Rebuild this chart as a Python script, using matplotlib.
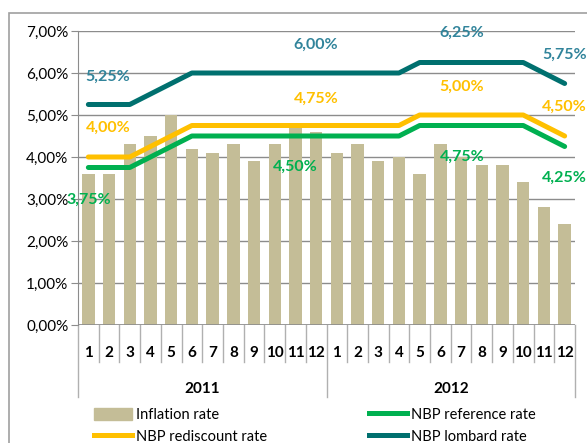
import numpy as np
import matplotlib.pyplot as plt
from matplotlib.patches import Rectangle
from matplotlib.lines import Line2D

plt.rcParams['font.family'] = ['Lato', 'DejaVu Sans']

months = [str(m) for m in range(1, 13)] * 2
years = ["2011", "2012"]
inflation = [3.6, 3.6, 4.3, 4.5, 5.0, 4.2, 4.1, 4.3, 3.9, 4.3, 4.7, 4.6,
             4.1, 4.3, 3.9, 4.0, 3.6, 4.3, 4.0, 3.8, 3.8, 3.4, 2.8, 2.4]
reference = [3.75, 3.75, 3.75, 4.0, 4.25, 4.5, 4.5, 4.5, 4.5, 4.5, 4.5, 4.5,
             4.5, 4.5, 4.5, 4.5, 4.75, 4.75, 4.75, 4.75, 4.75, 4.75, 4.5, 4.25]
rediscount = [4.0, 4.0, 4.0, 4.25, 4.5, 4.75, 4.75, 4.75, 4.75, 4.75, 4.75, 4.75,
              4.75, 4.75, 4.75, 4.75, 5.0, 5.0, 5.0, 5.0, 5.0, 5.0, 4.75, 4.5]
lombard = [5.25, 5.25, 5.25, 5.5, 5.75, 6.0, 6.0, 6.0, 6.0, 6.0, 6.0, 6.0,
           6.0, 6.0, 6.0, 6.0, 6.25, 6.25, 6.25, 6.25, 6.25, 6.25, 6.0, 5.75]

# labels: (text, x index, y value)
lab_lombard = [("5,25%", 0.95, 5.9), ("6,00%", 11.0, 6.67), ("6,25%", 18.05, 6.95), ("5,75%", 23.0, 6.43)]
lab_redisc = [("4,00%", 0.95, 4.69), ("4,75%", 11.0, 5.38), ("5,00%", 18.05, 5.67), ("4,50%", 23.0, 5.19)]
lab_ref = [("3,75%", 0.0, 2.98), ("4,50%", 10.0, 3.76), ("4,75%", 18.05, 4.0), ("4,25%", 23.0, 3.5)]

c_bar = "#C4BD97"
c_lomb = "#00706F"
c_lomb_txt = "#31849B"
c_red = "#FFC000"
c_ref = "#00B050"
c_grid = "#8C8C8C"

W, H = 587, 443
fig = plt.figure(figsize=(W / 100, H / 100), dpi=100)
ax = fig.add_axes([78 / W, (H - 325) / H, (575 - 78) / W, (325 - 31) / H])

fig.patches.append(Rectangle((9 / W, -0.5), 2.0, (H - 13) / H + 0.5, transform=fig.transFigure,
                             fill=False, edgecolor="#A0A0A0", linewidth=1.2))

x = np.arange(24)
ax.bar(x, inflation, width=0.6, color=c_bar, zorder=2)
ax.plot(x, reference, color=c_ref, lw=3.6, zorder=3, solid_capstyle="round")
ax.plot(x, rediscount, color=c_red, lw=3.6, zorder=3, solid_capstyle="round")
ax.plot(x, lombard, color=c_lomb, lw=3.6, zorder=3, solid_capstyle="round")

for labs, col in [(lab_lombard, c_lomb_txt), (lab_redisc, c_red), (lab_ref, c_ref)]:
    for t, xi, yv in labs:
        ax.text(xi, yv, t, color=col, fontsize=11.5, fontweight="bold",
                ha="center", va="center", zorder=4, clip_on=False)

ax.set_xlim(-0.5, 23.5)
ax.set_ylim(0, 7)
ax.set_yticks(range(8))
ax.set_yticklabels([f"{v},00%" for v in range(8)], fontsize=11)
ax.yaxis.grid(True, color=c_grid, lw=1.0, zorder=0)
ax.tick_params(axis="y", length=5, color=c_grid, pad=2)

for s in ["top", "right", "bottom"]:
    ax.spines[s].set_visible(False)
ax.spines["left"].set_color(c_grid)
ax.axhline(0, color=c_grid, lw=1.2, zorder=5)

ax.set_xticks(x)
ax.set_xticklabels(months, fontsize=11, fontweight="bold")
ax.tick_params(axis="x", length=0, pad=15)

tr = ax.get_xaxis_transform()
for b in np.arange(-0.5, 24, 1.0):
    bottom = -0.245 if b in (-0.5, 11.5, 23.5) else -0.126
    ax.plot([b, b], [0, bottom], color="#B0B0B0", lw=1.0, transform=tr, clip_on=False)
for i, yr in enumerate(years):
    ax.text(5.5 + 12 * i, -0.218, yr, transform=tr, ha="center", va="center",
            fontsize=11, fontweight="bold")

handles = [Rectangle((0, 0), 1, 1, color=c_bar),
           Line2D([], [], color=c_red, lw=3.6),
           Line2D([], [], color=c_ref, lw=3.6),
           Line2D([], [], color=c_lomb, lw=3.6)]
names = ["Inflation rate", "NBP rediscount rate", "NBP reference rate", "NBP lombard rate"]
fig.legend(handles, names, ncol=2, loc="upper left", bbox_to_anchor=(88 / W, (H - 402) / H),
           frameon=False, fontsize=10.5, handlelength=2.6, handleheight=0.9,
           columnspacing=6.95, labelspacing=0.55, handletextpad=0.3, borderaxespad=0)

fig.savefig("out.png", dpi=100)
